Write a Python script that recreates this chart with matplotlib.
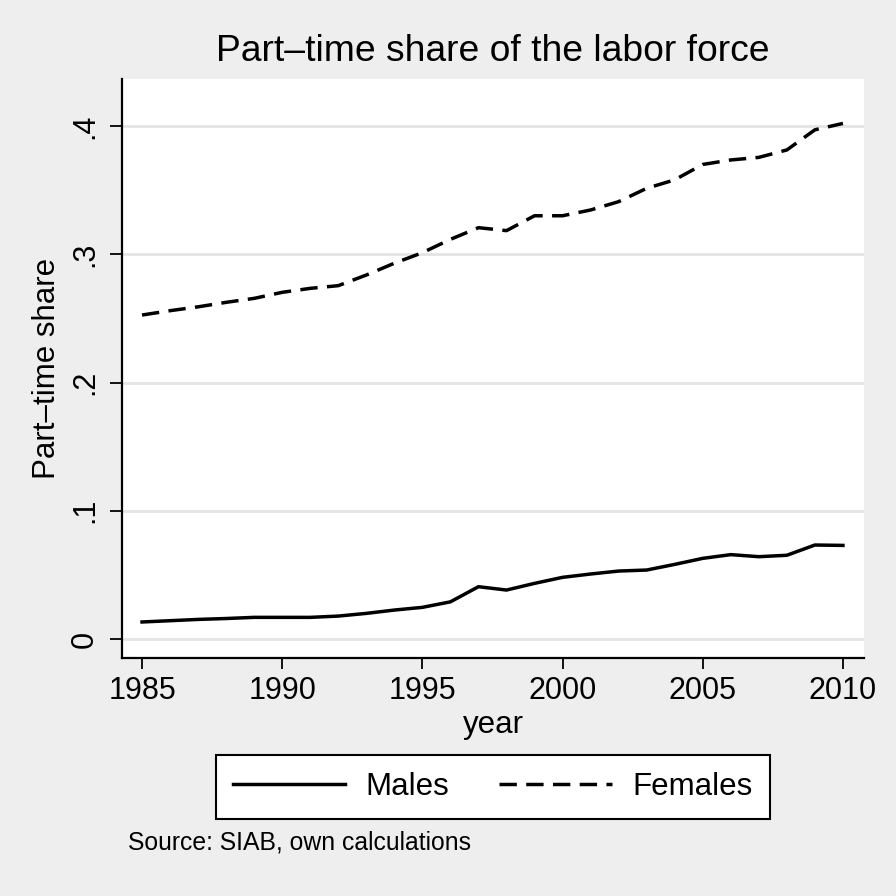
import matplotlib.pyplot as plt
import numpy as np

# data
years = np.arange(1985, 2011)
males = [0.0133, 0.0143, 0.0153, 0.0160, 0.0169, 0.0169, 0.0169, 0.0179, 0.0200,
         0.0226, 0.0247, 0.0290, 0.0408, 0.0382, 0.0434, 0.0481, 0.0507, 0.0530,
         0.0538, 0.0582, 0.0629, 0.0658, 0.0642, 0.0653, 0.0733, 0.0730]
females = [0.2526, 0.2560, 0.2590, 0.2625, 0.2656, 0.2703, 0.2734, 0.2755, 0.2838,
           0.2930, 0.3012, 0.3116, 0.3207, 0.3184, 0.3300, 0.3300, 0.3345, 0.3410,
           0.3514, 0.3580, 0.3700, 0.3735, 0.3755, 0.3813, 0.3970, 0.4020]
yticks = [0, 0.1, 0.2, 0.3, 0.4]
ytick_labels = ['0', '.1', '.2', '.3', '.4']
xticks = [1985, 1990, 1995, 2000, 2005, 2010]

plt.rcParams['font.family'] = ['Liberation Sans', 'DejaVu Sans']

bg = '#eeeeee'
fig = plt.figure(figsize=(8.96, 8.96), dpi=100, facecolor=bg)
ax = fig.add_axes([0.1362, 0.2656, 0.828, 0.6462])
ax.set_facecolor('white')

ax.plot(years, males, color='black', lw=2.5, label='Males')
ax.plot(years, females, color='black', lw=2.5, dashes=(5, 2.7), label='Females')

ax.set_xlim(1984.287, 2010.749)
ax.set_ylim(-0.0148, 0.4366)

ax.set_yticks(yticks)
ax.set_yticklabels(ytick_labels, rotation=90, va='center')
ax.set_xticks(xticks)
ax.grid(axis='y', color='#e4e4e4', lw=2)
ax.set_axisbelow(True)

for s in ['top', 'right']:
    ax.spines[s].set_visible(False)
for s in ['left', 'bottom']:
    ax.spines[s].set_linewidth(1.6)
ax.tick_params(axis='y', length=9, width=1.3, labelsize=22, pad=7)
ax.tick_params(axis='x', length=8, width=1.3, labelsize=22, pad=5)

ax.set_title('Part\u2013time share of the labor force', fontsize=26.8, pad=13)
ax.set_xlabel('year', fontsize=22.5, labelpad=3)
ax.set_ylabel('Part\u2013time share', fontsize=22.5)
ax.yaxis.set_label_coords(-0.081, 0.5)

leg = fig.legend(loc='center', bbox_to_anchor=(0.5497, 0.1217), ncol=2,
                 fontsize=22.5, handlelength=3.6, handletextpad=0.65,
                 columnspacing=1.6, borderpad=0.55, fancybox=False,
                 edgecolor='black', framealpha=1, facecolor='white')
leg.get_frame().set_linewidth(1.5)

fig.text(0.1429, 0.0592, 'Source: SIAB, own calculations', fontsize=17.8, va='center')

fig.savefig('out.png', dpi=100, facecolor=bg)
